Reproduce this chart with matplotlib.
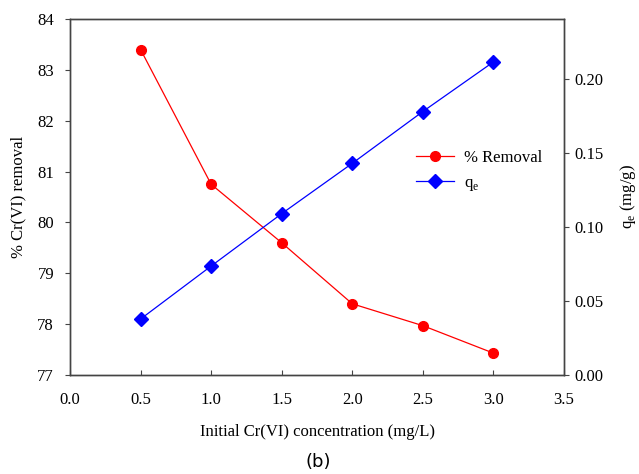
import matplotlib
matplotlib.use("Agg")
import matplotlib.pyplot as plt

conc = [0.5, 1.0, 1.5, 2.0, 2.5, 3.0]
removal = [83.4, 80.75, 79.6, 78.4, 77.97, 77.43]
qe = [0.0378, 0.0736, 0.109, 0.143, 0.178, 0.2115]

plt.rcParams['font.family'] = ['Liberation Serif']
fig = plt.figure(figsize=(6.39, 4.74), dpi=100)
ax = fig.add_axes([70/639, 99/474, 494/639, 356/474])
ax2 = ax.twinx()

spine_c = '#444444'
l1, = ax.plot(conc, removal, color='red', lw=0.9, marker='o', ms=7, mec='red', mfc='red', label='% Removal')
l2, = ax2.plot(conc, qe, color='blue', lw=0.9, marker='D', ms=7, mec='blue', mfc='blue', label='q$_\\mathregular{e}$')

ax.set_xlim(0, 3.5)
ax.set_ylim(77, 84)
ax2.set_ylim(0, 0.2405)
ax.set_xticks([0, 0.5, 1.0, 1.5, 2.0, 2.5, 3.0, 3.5])
ax.set_xticklabels([f'{v:.1f}' for v in [0, 0.5, 1.0, 1.5, 2.0, 2.5, 3.0, 3.5]])
ax.set_yticks(range(77, 85))
ax2.set_yticks([0, 0.05, 0.10, 0.15, 0.20])
ax2.set_yticklabels(['0.00', '0.05', '0.10', '0.15', '0.20'])

for a in (ax, ax2):
    for s in a.spines.values():
        s.set_color(spine_c)
        s.set_linewidth(1.0)
ax.tick_params(axis='x', direction='in', length=3.5, labelsize=12, color=spine_c, pad=12)
ax.tick_params(axis='y', direction='out', length=3.5, labelsize=12, color=spine_c, pad=8)
ax2.tick_params(axis='y', direction='out', length=3.5, labelsize=12, color=spine_c, pad=4)

ax.set_xlabel('Initial Cr(VI) concentration (mg/L)', fontsize=12, labelpad=12)
ax.set_ylabel('% Cr(VI) removal', fontsize=12, labelpad=8)
ax2.set_ylabel('q$_\\mathregular{e}$ (mg/g)', fontsize=12, labelpad=10)

ax2.legend([l1, l2], ['% Removal', 'q$_\\mathregular{e}$'], loc='upper left',
           bbox_to_anchor=(416/639, 1 - 150/474), bbox_transform=fig.transFigure,
           frameon=False, fontsize=12, borderpad=0, borderaxespad=0,
           handlelength=2.3, handletextpad=0.6, labelspacing=0.55)

fig.text(318/639, 1 - 462/474, '(b)', ha='center', va='center', fontsize=13, family='DejaVu Sans')

fig.savefig('out.png', dpi=100)
